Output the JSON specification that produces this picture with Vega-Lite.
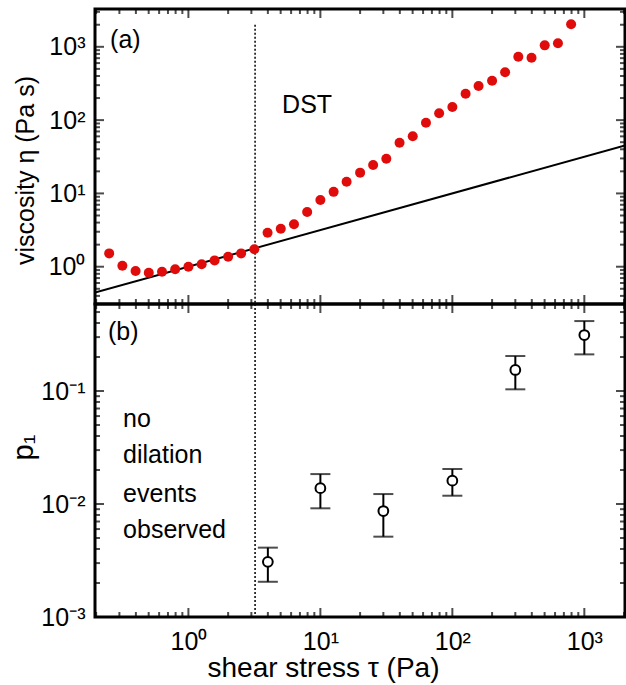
{
  "$schema": "https://vega.github.io/schema/vega-lite/v6.json",
  "padding": {"left": 7, "top": 7, "right": 0, "bottom": 0},
  "spacing": 0,
  "bounds": "flush",
  "config": {
    "view": {"stroke": "black", "strokeWidth": 3},
    "font": "Liberation Sans",
    "axis": {"domain": false, "grid": false, "ticks": true, "tickSize": 0, "labelColor": "black", "labelFont": "Liberation Sans", "labelFontSize": 25, "labelOverlap": false, "labelFlush": false, "labelBound": false, "titleFont": "Liberation Sans", "titleFontSize": 25, "titleFontWeight": "normal", "titleColor": "black"}
  },
  "datasets": {
    "visc": [
      {"tau": 0.251, "eta": 1.52}, {"tau": 0.316, "eta": 1.03}, {"tau": 0.398, "eta": 0.874}, {"tau": 0.501, "eta": 0.828},
      {"tau": 0.631, "eta": 0.855}, {"tau": 0.794, "eta": 0.922}, {"tau": 1.0, "eta": 1.0}, {"tau": 1.26, "eta": 1.078},
      {"tau": 1.58, "eta": 1.22}, {"tau": 2.0, "eta": 1.37}, {"tau": 2.51, "eta": 1.52}, {"tau": 3.16, "eta": 1.73},
      {"tau": 3.98, "eta": 2.91}, {"tau": 5.01, "eta": 3.30}, {"tau": 6.31, "eta": 3.79}, {"tau": 7.94, "eta": 5.57},
      {"tau": 10, "eta": 8.13}, {"tau": 12.6, "eta": 10.5}, {"tau": 15.8, "eta": 14.4}, {"tau": 20, "eta": 19.2},
      {"tau": 25.1, "eta": 24.4}, {"tau": 31.6, "eta": 29.7}, {"tau": 39.8, "eta": 49.2}, {"tau": 50.1, "eta": 60.1},
      {"tau": 63.1, "eta": 92.2}, {"tau": 79.4, "eta": 124}, {"tau": 100, "eta": 151}, {"tau": 126, "eta": 229},
      {"tau": 158, "eta": 292}, {"tau": 200, "eta": 345}, {"tau": 251, "eta": 449}, {"tau": 316, "eta": 733},
      {"tau": 398, "eta": 710}, {"tau": 501, "eta": 1047}, {"tau": 631, "eta": 1116}, {"tau": 794, "eta": 2028}
    ],
    "fit": [{"tau": 0.196, "eta": 0.443}, {"tau": 2033, "eta": 45.1}],
    "dstTop": [{"tau": 3.2, "y": 2000, "y2": 0.31}],
    "dstBot": [{"tau": 3.2, "y": 0.589, "y2": 0.001}],
    "p1": [
      {"tau": 4, "p": 0.00308, "lo": 0.00205, "hi": 0.00411},
      {"tau": 10, "p": 0.0138, "lo": 0.00916, "hi": 0.0184},
      {"tau": 30, "p": 0.00867, "lo": 0.00514, "hi": 0.01225},
      {"tau": 100, "p": 0.0161, "lo": 0.01184, "hi": 0.0204},
      {"tau": 300, "p": 0.1535, "lo": 0.1035, "hi": 0.204},
      {"tau": 1000, "p": 0.313, "lo": 0.211, "hi": 0.416}
    ],
    "textTop": [
      {"tau": 0.255, "eta": 964, "label": "(a)"},
      {"tau": 5.13, "eta": 125, "label": "DST"}
    ],
    "textBot": [
      {"tau": 0.246, "p": 0.2825, "label": "(b)"},
      {"tau": 0.32, "p": 0.0483, "label": "no"},
      {"tau": 0.32, "p": 0.0229, "label": "dilation"},
      {"tau": 0.32, "p": 0.01047, "label": "events"},
      {"tau": 0.32, "p": 0.00497, "label": "observed"}
    ],
    "xt": [
      {"v": 0.2, "kind": "minor"}, {"v": 0.3, "kind": "minor"}, {"v": 0.4, "kind": "minor"}, {"v": 0.5, "kind": "minor"}, {"v": 0.6, "kind": "minor"}, {"v": 0.7, "kind": "minor"}, {"v": 0.8, "kind": "minor"}, {"v": 0.9, "kind": "minor"},
      {"v": 1, "kind": "major"},
      {"v": 2, "kind": "minor"}, {"v": 3, "kind": "minor"}, {"v": 4, "kind": "minor"}, {"v": 5, "kind": "minor"}, {"v": 6, "kind": "minor"}, {"v": 7, "kind": "minor"}, {"v": 8, "kind": "minor"}, {"v": 9, "kind": "minor"},
      {"v": 10, "kind": "major"},
      {"v": 20, "kind": "minor"}, {"v": 30, "kind": "minor"}, {"v": 40, "kind": "minor"}, {"v": 50, "kind": "minor"}, {"v": 60, "kind": "minor"}, {"v": 70, "kind": "minor"}, {"v": 80, "kind": "minor"}, {"v": 90, "kind": "minor"},
      {"v": 100, "kind": "major"},
      {"v": 200, "kind": "minor"}, {"v": 300, "kind": "minor"}, {"v": 400, "kind": "minor"}, {"v": 500, "kind": "minor"}, {"v": 600, "kind": "minor"}, {"v": 700, "kind": "minor"}, {"v": 800, "kind": "minor"}, {"v": 900, "kind": "minor"},
      {"v": 1000, "kind": "major"},
      {"v": 2000, "kind": "minor"}
    ],
    "yt1": [
      {"v": 0.4, "kind": "minor"}, {"v": 0.5, "kind": "minor"}, {"v": 0.6, "kind": "minor"}, {"v": 0.7, "kind": "minor"}, {"v": 0.8, "kind": "minor"}, {"v": 0.9, "kind": "minor"},
      {"v": 1, "kind": "major"},
      {"v": 2, "kind": "minor"}, {"v": 3, "kind": "minor"}, {"v": 4, "kind": "minor"}, {"v": 5, "kind": "minor"}, {"v": 6, "kind": "minor"}, {"v": 7, "kind": "minor"}, {"v": 8, "kind": "minor"}, {"v": 9, "kind": "minor"},
      {"v": 10, "kind": "major"},
      {"v": 20, "kind": "minor"}, {"v": 30, "kind": "minor"}, {"v": 40, "kind": "minor"}, {"v": 50, "kind": "minor"}, {"v": 60, "kind": "minor"}, {"v": 70, "kind": "minor"}, {"v": 80, "kind": "minor"}, {"v": 90, "kind": "minor"},
      {"v": 100, "kind": "major"},
      {"v": 200, "kind": "minor"}, {"v": 300, "kind": "minor"}, {"v": 400, "kind": "minor"}, {"v": 500, "kind": "minor"}, {"v": 600, "kind": "minor"}, {"v": 700, "kind": "minor"}, {"v": 800, "kind": "minor"}, {"v": 900, "kind": "minor"},
      {"v": 1000, "kind": "major"},
      {"v": 2000, "kind": "minor"}, {"v": 3000, "kind": "minor"}
    ],
    "yt2": [
      {"v": 0.001, "kind": "major"},
      {"v": 0.002, "kind": "minor"}, {"v": 0.003, "kind": "minor"}, {"v": 0.004, "kind": "minor"}, {"v": 0.005, "kind": "minor"}, {"v": 0.006, "kind": "minor"}, {"v": 0.007, "kind": "minor"}, {"v": 0.008, "kind": "minor"}, {"v": 0.009, "kind": "minor"},
      {"v": 0.01, "kind": "major"},
      {"v": 0.02, "kind": "minor"}, {"v": 0.03, "kind": "minor"}, {"v": 0.04, "kind": "minor"}, {"v": 0.05, "kind": "minor"}, {"v": 0.06, "kind": "minor"}, {"v": 0.07, "kind": "minor"}, {"v": 0.08, "kind": "minor"}, {"v": 0.09, "kind": "minor"},
      {"v": 0.1, "kind": "major"},
      {"v": 0.2, "kind": "minor"}, {"v": 0.3, "kind": "minor"}, {"v": 0.4, "kind": "minor"}, {"v": 0.5, "kind": "minor"}
    ]
  },
  "vconcat": [
    {
      "width": 530,
      "height": 295,
      "resolve": {"axis": {"x": "independent", "y": "independent"}},
      "layer": [
        {
          "data": {"name": "fit"},
          "mark": {"type": "line", "color": "black", "strokeWidth": 2, "clip": true},
          "encoding": {
            "x": {"field": "tau", "type": "quantitative", "scale": {"type": "log", "domain": [0.196, 2033], "nice": false}, "axis": null},
            "y": {"field": "eta", "type": "quantitative", "scale": {"type": "log", "domain": [0.31, 3280], "nice": false},
              "axis": {"orient": "left", "title": "viscosity η (Pa s)", "titleX": -57, "titleY": 161, "labelPadding": 10,
                "values": [1, 10, 100, 1000],
                "labelExpr": "'10' + ['⁻³','⁻²','⁻¹','⁰','¹','²','³'][round(log(datum.value)/LN10)+3]"}}
          }
        },
        {
          "data": {"name": "xt"},
          "mark": {"type": "tick", "orient": "vertical", "color": "black", "thickness": 2, "clip": true},
          "encoding": {
            "x": {"field": "v", "type": "quantitative", "scale": {"type": "log", "domain": [0.196, 2033], "nice": false}, "axis": null},
            "y": {"datum": 0.31, "type": "quantitative", "scale": {"type": "log", "domain": [0.31, 3280], "nice": false}, "axis": null},
            "size": {"field": "kind", "type": "nominal", "scale": {"domain": ["major", "minor"], "range": [18, 10]}, "legend": null}
          }
        },
        {
          "data": {"name": "xt"},
          "mark": {"type": "tick", "orient": "vertical", "color": "black", "thickness": 2, "clip": true},
          "encoding": {
            "x": {"field": "v", "type": "quantitative", "scale": {"type": "log", "domain": [0.196, 2033], "nice": false}, "axis": null},
            "y": {"datum": 3280, "type": "quantitative", "scale": {"type": "log", "domain": [0.31, 3280], "nice": false}, "axis": null},
            "size": {"field": "kind", "type": "nominal", "scale": {"domain": ["major", "minor"], "range": [18, 10]}, "legend": null}
          }
        },
        {
          "data": {"name": "yt1"},
          "mark": {"type": "tick", "orient": "horizontal", "color": "black", "thickness": 2, "clip": true},
          "encoding": {
            "x": {"datum": 0.196, "type": "quantitative", "scale": {"type": "log", "domain": [0.196, 2033], "nice": false}, "axis": null},
            "y": {"field": "v", "type": "quantitative", "scale": {"type": "log", "domain": [0.31, 3280], "nice": false}, "axis": null},
            "size": {"field": "kind", "type": "nominal", "scale": {"domain": ["major", "minor"], "range": [18, 10]}, "legend": null}
          }
        },
        {
          "data": {"name": "yt1"},
          "mark": {"type": "tick", "orient": "horizontal", "color": "black", "thickness": 2, "clip": true},
          "encoding": {
            "x": {"datum": 2033, "type": "quantitative", "scale": {"type": "log", "domain": [0.196, 2033], "nice": false}, "axis": null},
            "y": {"field": "v", "type": "quantitative", "scale": {"type": "log", "domain": [0.31, 3280], "nice": false}, "axis": null},
            "size": {"field": "kind", "type": "nominal", "scale": {"domain": ["major", "minor"], "range": [18, 10]}, "legend": null}
          }
        },
        {
          "data": {"name": "dstTop"},
          "mark": {"type": "rule", "color": "black", "strokeWidth": 1.5, "strokeDash": [2, 2]},
          "encoding": {
            "x": {"field": "tau", "type": "quantitative", "scale": {"type": "log", "domain": [0.196, 2033], "nice": false}, "axis": null},
            "y": {"field": "y", "type": "quantitative", "scale": {"type": "log", "domain": [0.31, 3280], "nice": false}, "axis": null},
            "y2": {"field": "y2"}
          }
        },
        {
          "data": {"name": "visc"},
          "mark": {"type": "point", "shape": "circle", "filled": true, "color": "#e00c0c", "size": 100, "opacity": 1},
          "encoding": {
            "x": {"field": "tau", "type": "quantitative", "scale": {"type": "log", "domain": [0.196, 2033], "nice": false}, "axis": null},
            "y": {"field": "eta", "type": "quantitative", "scale": {"type": "log", "domain": [0.31, 3280], "nice": false}, "axis": null}
          }
        },
        {
          "data": {"name": "textTop"},
          "mark": {"type": "text", "align": "left", "baseline": "alphabetic", "fontSize": 25, "font": "Liberation Sans", "color": "black"},
          "encoding": {
            "x": {"field": "tau", "type": "quantitative", "scale": {"type": "log", "domain": [0.196, 2033], "nice": false}, "axis": null},
            "y": {"field": "eta", "type": "quantitative", "scale": {"type": "log", "domain": [0.31, 3280], "nice": false}, "axis": null},
            "text": {"field": "label"}
          }
        }
      ]
    },
    {
      "width": 530,
      "height": 313,
      "resolve": {"axis": {"x": "independent", "y": "independent"}},
      "layer": [
        {
          "data": {"name": "dstBot"},
          "mark": {"type": "rule", "color": "black", "strokeWidth": 1.5, "strokeDash": [2, 2]},
          "encoding": {
            "x": {"field": "tau", "type": "quantitative", "scale": {"type": "log", "domain": [0.196, 2033], "nice": false},
              "axis": {"orient": "bottom", "title": "shear stress τ (Pa)", "titleFontSize": 28, "titleX": 228, "titlePadding": 0, "labelPadding": 12,
                "values": [1, 10, 100, 1000],
                "labelExpr": "'10' + ['⁻³','⁻²','⁻¹','⁰','¹','²','³'][round(log(datum.value)/LN10)+3]"}},
            "y": {"field": "y", "type": "quantitative", "scale": {"type": "log", "domain": [0.001, 0.589], "nice": false},
              "axis": {"orient": "left", "title": "p₁", "titleFontSize": 29, "titleX": -57, "titleY": 143, "labelPadding": 10,
                "values": [0.001, 0.01, 0.1],
                "labelExpr": "'10' + ['⁻³','⁻²','⁻¹','⁰','¹','²','³'][round(log(datum.value)/LN10)+3]"}},
            "y2": {"field": "y2"}
          }
        },
        {
          "data": {"name": "xt"},
          "mark": {"type": "tick", "orient": "vertical", "color": "black", "thickness": 2, "clip": true},
          "encoding": {
            "x": {"field": "v", "type": "quantitative", "scale": {"type": "log", "domain": [0.196, 2033], "nice": false}, "axis": null},
            "y": {"datum": 0.001, "type": "quantitative", "scale": {"type": "log", "domain": [0.001, 0.589], "nice": false}, "axis": null},
            "size": {"field": "kind", "type": "nominal", "scale": {"domain": ["major", "minor"], "range": [18, 10]}, "legend": null}
          }
        },
        {
          "data": {"name": "xt"},
          "mark": {"type": "tick", "orient": "vertical", "color": "black", "thickness": 2, "clip": true},
          "encoding": {
            "x": {"field": "v", "type": "quantitative", "scale": {"type": "log", "domain": [0.196, 2033], "nice": false}, "axis": null},
            "y": {"datum": 0.589, "type": "quantitative", "scale": {"type": "log", "domain": [0.001, 0.589], "nice": false}, "axis": null},
            "size": {"field": "kind", "type": "nominal", "scale": {"domain": ["major", "minor"], "range": [18, 10]}, "legend": null}
          }
        },
        {
          "data": {"name": "yt2"},
          "mark": {"type": "tick", "orient": "horizontal", "color": "black", "thickness": 2, "clip": true},
          "encoding": {
            "x": {"datum": 0.196, "type": "quantitative", "scale": {"type": "log", "domain": [0.196, 2033], "nice": false}, "axis": null},
            "y": {"field": "v", "type": "quantitative", "scale": {"type": "log", "domain": [0.001, 0.589], "nice": false}, "axis": null},
            "size": {"field": "kind", "type": "nominal", "scale": {"domain": ["major", "minor"], "range": [18, 10]}, "legend": null}
          }
        },
        {
          "data": {"name": "yt2"},
          "mark": {"type": "tick", "orient": "horizontal", "color": "black", "thickness": 2, "clip": true},
          "encoding": {
            "x": {"datum": 2033, "type": "quantitative", "scale": {"type": "log", "domain": [0.196, 2033], "nice": false}, "axis": null},
            "y": {"field": "v", "type": "quantitative", "scale": {"type": "log", "domain": [0.001, 0.589], "nice": false}, "axis": null},
            "size": {"field": "kind", "type": "nominal", "scale": {"domain": ["major", "minor"], "range": [18, 10]}, "legend": null}
          }
        },
        {
          "data": {"name": "p1"},
          "mark": {"type": "rule", "color": "black", "strokeWidth": 2},
          "encoding": {
            "x": {"field": "tau", "type": "quantitative", "scale": {"type": "log", "domain": [0.196, 2033], "nice": false}, "axis": null},
            "y": {"field": "lo", "type": "quantitative", "scale": {"type": "log", "domain": [0.001, 0.589], "nice": false}, "axis": null},
            "y2": {"field": "hi"}
          }
        },
        {
          "data": {"name": "p1"},
          "mark": {"type": "tick", "orient": "horizontal", "color": "black", "size": 20, "thickness": 2},
          "encoding": {
            "x": {"field": "tau", "type": "quantitative", "scale": {"type": "log", "domain": [0.196, 2033], "nice": false}, "axis": null},
            "y": {"field": "lo", "type": "quantitative", "scale": {"type": "log", "domain": [0.001, 0.589], "nice": false}, "axis": null}
          }
        },
        {
          "data": {"name": "p1"},
          "mark": {"type": "tick", "orient": "horizontal", "color": "black", "size": 20, "thickness": 2},
          "encoding": {
            "x": {"field": "tau", "type": "quantitative", "scale": {"type": "log", "domain": [0.196, 2033], "nice": false}, "axis": null},
            "y": {"field": "hi", "type": "quantitative", "scale": {"type": "log", "domain": [0.001, 0.589], "nice": false}, "axis": null}
          }
        },
        {
          "data": {"name": "p1"},
          "mark": {"type": "point", "shape": "circle", "filled": false, "fill": "white", "fillOpacity": 1, "stroke": "black", "strokeWidth": 2, "size": 95, "opacity": 1},
          "encoding": {
            "x": {"field": "tau", "type": "quantitative", "scale": {"type": "log", "domain": [0.196, 2033], "nice": false}, "axis": null},
            "y": {"field": "p", "type": "quantitative", "scale": {"type": "log", "domain": [0.001, 0.589], "nice": false}, "axis": null}
          }
        },
        {
          "data": {"name": "textBot"},
          "mark": {"type": "text", "align": "left", "baseline": "alphabetic", "fontSize": 25, "font": "Liberation Sans", "color": "black"},
          "encoding": {
            "x": {"field": "tau", "type": "quantitative", "scale": {"type": "log", "domain": [0.196, 2033], "nice": false}, "axis": null},
            "y": {"field": "p", "type": "quantitative", "scale": {"type": "log", "domain": [0.001, 0.589], "nice": false}, "axis": null},
            "text": {"field": "label"}
          }
        }
      ]
    }
  ]
}
